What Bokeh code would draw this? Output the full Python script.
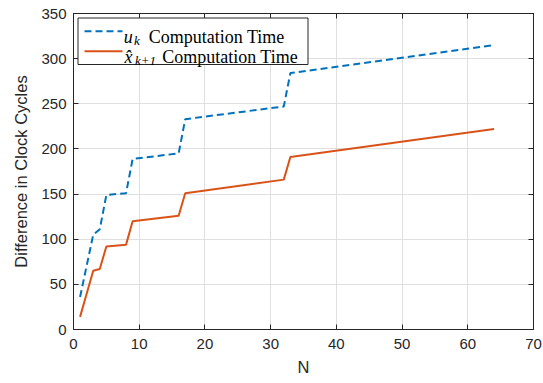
from bokeh.plotting import figure
from bokeh.models import (LinearAxis, FixedTicker, Range1d, BoxAnnotation, Label, Arrow,
                          ColumnDataSource)
from bokeh.embed import file_html
from bokeh.resources import INLINE

# ---- data ----
N_values = [1, 3, 4, 5, 8, 9, 16, 17, 32, 33, 64]
u_time = [36, 105, 111, 149, 151, 189, 195, 233, 247, 284, 315]
xhat_time = [14, 65, 67, 92, 94, 120, 126, 151, 166, 191, 222]
x_ticks = [0, 10, 20, 30, 40, 50, 60, 70]
y_ticks = [0, 50, 100, 150, 200, 250, 300, 350]

BLUE = "#0072BD"
ORANGE = "#D95319"
AX = "#262626"

W, H = 543, 383
p = figure(width=W, height=H, output_backend="svg", toolbar_location=None,
           x_range=Range1d(0, 70), y_range=Range1d(0, 350),
           min_border_left=73, min_border_right=10, min_border_top=13, min_border_bottom=54)

src = ColumnDataSource(dict(N=N_values, u=u_time, xh=xhat_time))
p.line("N", "u", source=src, line_color=BLUE, line_width=2, line_dash="7 4")
p.line("N", "xh", source=src, line_color=ORANGE, line_width=2)

p.background_fill_color = "white"
p.border_fill_color = "white"
p.outline_line_color = AX
p.outline_line_width = 1

for ax in (p.xaxis[0], p.yaxis[0]):
    ax.major_tick_in = 5
    ax.major_tick_out = 0
    ax.minor_tick_in = 0
    ax.minor_tick_out = 0
    ax.axis_line_color = AX
    ax.major_tick_line_color = AX
    ax.major_label_text_color = AX
    ax.major_label_text_font = "Liberation Sans"
    ax.major_label_text_font_size = "15px"
    ax.axis_label_text_font = "Liberation Sans"
    ax.axis_label_text_font_size = "16.5px"
    ax.axis_label_text_font_style = "normal"
    ax.axis_label_text_color = AX

p.xaxis.ticker = FixedTicker(ticks=x_ticks)
p.yaxis.ticker = FixedTicker(ticks=y_ticks)
p.xaxis.axis_label = "N"
p.yaxis.axis_label = "Difference in Clock Cycles"
p.xaxis.major_label_standoff = 9
p.yaxis.major_label_standoff = 7
p.xaxis.axis_label_standoff = 6
p.yaxis.axis_label_standoff = 8

for loc, tk in (("above", x_ticks), ("right", y_ticks)):
    a = LinearAxis(ticker=FixedTicker(ticks=tk))
    a.major_tick_in = 5
    a.major_tick_out = 0
    a.minor_tick_in = 0
    a.minor_tick_out = 0
    a.axis_line_color = AX
    a.major_tick_line_color = AX
    a.major_label_text_font_size = "0px"
    a.major_label_text_color = None
    a.major_label_standoff = 0
    p.add_layout(a, loc)

p.grid.grid_line_color = "#dfdfdf"
p.grid.grid_line_width = 1
p.xgrid.ticker = FixedTicker(ticks=x_ticks)
p.ygrid.ticker = FixedTicker(ticks=y_ticks)

# ---- legend, built from annotations in screen units (frame-relative) ----
FX0, FY0 = 73, 329  # page position of frame's bottom-left


def fx(px):
    return px - FX0


def fy(py):
    return FY0 - py


p.add_layout(BoxAnnotation(left=fx(77.5), right=fx(307.5), top=fy(17.5), bottom=fy(64),
                           left_units="screen", right_units="screen",
                           top_units="screen", bottom_units="screen",
                           fill_color="white", fill_alpha=1.0,
                           line_color=AX, line_width=1, line_alpha=1.0))

p.add_layout(Arrow(end=None, x_start=fx(84), y_start=fy(30.7), x_end=fx(122), y_end=fy(30.7),
                   start_units="screen", end_units="screen",
                   line_color=BLUE, line_width=2, line_dash="7 4"))
p.add_layout(Arrow(end=None, x_start=fx(84), y_start=fy(50.7), x_end=fx(122), y_end=fy(50.7),
                   start_units="screen", end_units="screen",
                   line_color=ORANGE, line_width=2))

SERIF = "Liberation Serif"


def lab(txt, px, py, size, italic=False):
    p.add_layout(Label(x=fx(px), y=fy(py), x_units="screen", y_units="screen", text=txt,
                       text_font=SERIF, text_font_size=size,
                       text_font_style="italic" if italic else "normal",
                       text_color="black", text_baseline="alphabetic", text_align="left"))


lab("u", 123.3, 36, "18px", True)
lab("k", 133.5, 40, "13px", True)
lab("Computation Time", 148.3, 36, "18px")
lab("x\u0302", 124, 56, "18px", True)
lab("k+1", 134.5, 60, "13px", True)
lab("Computation Time", 161.7, 56, "18px")

open("out.html", "w").write(file_html(p, INLINE))
